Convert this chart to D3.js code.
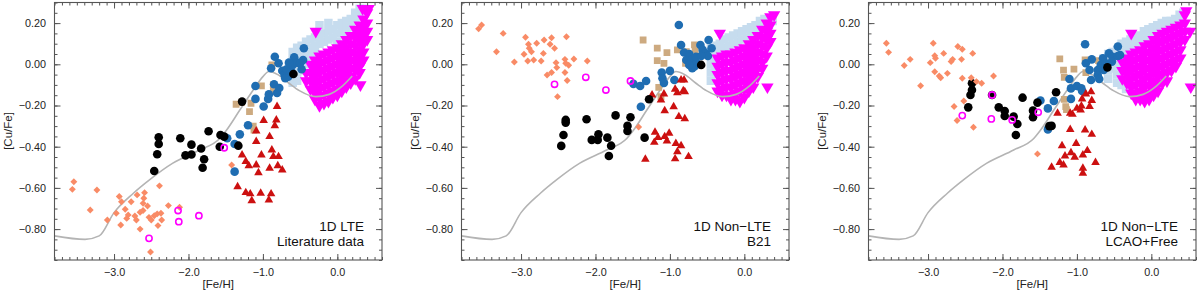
<!DOCTYPE html>
<html lang="en">
<head>
<meta charset="UTF-8">
<title>[Cu/Fe] vs [Fe/H]</title>
<script src="https://cdnjs.cloudflare.com/ajax/libs/d3/7.8.5/d3.min.js"></script>
<style>
  body { margin: 0; background: #fff; }
  svg { font-family: "Liberation Sans", Arial, Helvetica, sans-serif; display: block; }
</style>
</head>
<body>
<svg width="1200" height="294"></svg>
<script>
// chemical evolution model, same in all three panels
const modelFeH = [-3.80, -3.39, -3.20, -3.00, -2.74, -2.52, -2.21, -1.85, -1.58, -1.49, -1.31, -1.13, -1.00, -0.92, -0.80, -0.65, -0.51, -0.29, -0.11, 0.07, 0.20];
const modelCuFe = [-0.833, -0.85, -0.833, -0.72, -0.626, -0.56, -0.48, -0.416, -0.36, -0.32, -0.222, -0.125, -0.06, -0.035, -0.05, -0.092, -0.128, -0.157, -0.146, -0.105, -0.057];

const xTicks = [-3, -2, -1, 0];
const xTickLabels = ["\u22123.0", "\u22122.0", "\u22121.0", "0.0"];
const yTicks = [0.2, 0, -0.2, -0.4, -0.6, -0.8];
const yTickLabels = ["0.20", "0.00", "\u22120.20", "\u22120.40", "\u22120.60", "\u22120.80"];

const panelTitles = [["1D LTE", "Literature data"], ["1D Non\u2212LTE", "B21"], ["1D Non\u2212LTE", "LCAO+Free"]];

// ---- panel 1: 1D LTE, literature ----
const lteHalo = [[-3.54,-0.57],[-3.56,-0.607],[-3.23,-0.61],[-3.32,-0.707],[-3.09,-0.756],[-2.93,-0.642],[-2.90,-0.667],[-2.97,-0.723],[-2.91,-0.78],[-2.85,-0.704],[-2.83,-0.748],[-2.81,-0.731],[-2.77,-0.667],[-2.72,-0.736],[-2.70,-0.756],[-2.69,-0.634],[-2.65,-0.718],[-2.65,-0.80],[-2.61,-0.675],[-2.60,-0.65],[-2.59,-0.623],[-2.61,-0.71],[-2.55,-0.688],[-2.53,-0.743],[-2.51,-0.911],[-2.50,-0.756],[-2.46,-0.735],[-2.42,-0.726],[-2.41,-0.783],[-2.39,-0.59],[-2.37,-0.723],[-2.36,-0.756],[-2.27,-0.686],[-2.12,-0.694],[-1.42,-0.489]];
const lteRing = [[-2.14,-0.71],[-2.13,-0.764],[-1.86,-0.735],[-2.53,-0.845],[-1.52,-0.405]];
const lteBlack = [[-2.40,-0.354],[-2.40,-0.387],[-2.42,-0.437],[-2.46,-0.518],[-2.11,-0.359],[-2.04,-0.442],[-1.96,-0.39],[-1.96,-0.438],[-1.83,-0.409],[-1.79,-0.461],[-1.81,-0.502],[-1.73,-0.325],[-1.57,-0.343],[-1.52,-0.351],[-1.58,-0.40],[-1.33,-0.395],[-1.28,-0.181],[-0.59,-0.047]];
const lteBlue = [[-1.48,-0.359],[-1.31,-0.34],[-1.38,-0.387],[-1.38,-0.521],[-1.20,-0.296],[-1.10,-0.168],[-1.10,-0.105],[-0.99,-0.205],[-0.93,-0.168],[-0.92,-0.146],[-0.81,-0.139],[-0.85,-0.097],[-0.78,-0.115],[-0.89,-0.019],[-0.84,0.037],[-0.79,0.005],[-0.74,-0.031],[-0.71,-0.052],[-0.68,-0.024],[-0.66,-0.06],[-0.62,-0.034],[-0.60,-0.003],[-0.58,0.034],[-0.54,0.008],[-0.48,-0.024],[-0.46,0.021],[-0.45,0.078],[-0.50,0.005],[-0.65,0.008],[-0.70,-0.068]];
const lteTan = [[-1.36,-0.194],[-1.29,-0.186],[-1.18,-0.23],[-1.16,-0.189],[-1.02,-0.105],[-1.13,-0.30],[-1.12,-0.32],[-0.88,-0.003],[-0.86,-0.10],[-0.86,-0.125]];
const lteRed = [[-0.81,-0.205],[-0.99,-0.273],[-0.82,-0.27],[-0.84,-0.298],[-1.09,-0.324],[-0.91,-0.351],[-1.09,-0.375],[-0.88,-0.416],[-1.28,-0.44],[-1.02,-0.44],[-0.86,-0.448],[-0.79,-0.448],[-1.23,-0.472],[-1.09,-0.489],[-1.19,-0.492],[-1.06,-0.526],[-0.91,-0.505],[-0.74,-0.513],[-0.80,-0.492],[-1.34,-0.594],[-1.23,-0.623],[-1.17,-0.629],[-1.15,-0.662],[-1.03,-0.626],[-0.89,-0.629],[-0.92,-0.659]];
const lteThin = [[-0.65,0.0],[-0.65,-0.04],[-0.60,0.06],[-0.60,0.02],[-0.60,-0.02],[-0.60,-0.06],[-0.60,-0.09],[-0.54,0.08],[-0.54,0.04],[-0.54,0.0],[-0.54,-0.04],[-0.54,-0.08],[-0.48,0.09],[-0.48,0.05],[-0.48,0.01],[-0.48,-0.03],[-0.42,0.11],[-0.42,0.07],[-0.42,0.03],[-0.42,0.0],[-0.36,0.12],[-0.36,0.08],[-0.36,0.04],[-0.30,0.13],[-0.30,0.09],[-0.30,0.05],[-0.24,0.19],[-0.24,0.14],[-0.24,0.10],[-0.18,0.15],[-0.18,0.11],[-0.12,0.20],[-0.12,0.16],[-0.12,0.12],[-0.06,0.17],[-0.06,0.13],[0.00,0.19],[0.00,0.15],[0.00,0.11],[0.06,0.20],[0.06,0.16],[0.12,0.21],[0.12,0.17],[0.12,0.13],[0.18,0.22],[0.18,0.18],[0.24,0.25],[0.24,0.21],[0.30,0.27],[0.30,0.23],[0.36,0.27]];
const lteDisk = [[-0.42,-0.04],[-0.42,-0.08],[-0.36,0.0],[-0.36,-0.04],[-0.36,-0.08],[-0.36,-0.12],[-0.30,0.02],[-0.30,-0.02],[-0.30,-0.06],[-0.30,-0.10],[-0.30,-0.14],[-0.30,-0.17],[-0.24,0.04],[-0.24,0.0],[-0.24,-0.04],[-0.24,-0.08],[-0.24,-0.12],[-0.24,-0.16],[-0.24,-0.20],[-0.18,0.05],[-0.18,0.01],[-0.18,-0.03],[-0.18,-0.07],[-0.18,-0.11],[-0.18,-0.15],[-0.18,-0.19],[-0.12,0.06],[-0.12,0.02],[-0.12,-0.02],[-0.12,-0.06],[-0.12,-0.10],[-0.12,-0.14],[-0.12,-0.18],[-0.06,0.07],[-0.06,0.03],[-0.06,-0.01],[-0.06,-0.05],[-0.06,-0.09],[-0.06,-0.13],[-0.06,-0.16],[0.00,0.08],[0.00,0.04],[0.00,0.00],[0.00,-0.04],[0.00,-0.08],[0.00,-0.12],[0.00,-0.15],[0.06,0.10],[0.06,0.06],[0.06,0.02],[0.06,-0.02],[0.06,-0.06],[0.06,-0.10],[0.06,-0.13],[0.12,0.12],[0.12,0.08],[0.12,0.04],[0.12,0.00],[0.12,-0.04],[0.12,-0.08],[0.12,-0.11],[0.18,0.14],[0.18,0.10],[0.18,0.06],[0.18,0.02],[0.18,-0.02],[0.18,-0.06],[0.18,-0.09],[0.24,0.17],[0.24,0.13],[0.24,0.09],[0.24,0.05],[0.24,0.01],[0.24,-0.03],[0.24,-0.07],[0.30,0.19],[0.30,0.15],[0.30,0.11],[0.30,0.07],[0.30,0.03],[0.30,-0.01],[0.30,-0.04],[0.35,0.22],[0.35,0.18],[0.35,0.14],[0.35,0.10],[0.35,0.06],[0.35,0.02],[0.40,0.25],[0.40,0.20],[0.40,0.16],[0.40,0.12],[-0.29,0.16],[0.34,0.27],[0.42,0.27],[0.31,-0.10]];

// ---- panel 2: 1D NLTE, B21 ----
const b21Halo = [[-3.53,0.191],[-3.57,0.172],[-3.24,0.15],[-3.33,0.061],[-3.09,0.011],[-2.94,0.131],[-2.96,0.049],[-2.90,0.097],[-2.89,0.078],[-2.91,0.016],[-2.86,0.061],[-2.83,0.021],[-2.79,0.102],[-2.73,0.016],[-2.70,0.053],[-2.69,0.118],[-2.65,-0.052],[-2.61,0.097],[-2.59,0.129],[-2.59,-0.04],[-2.55,0.078],[-2.53,0.008],[-2.52,-0.016],[-2.51,-0.157],[-2.41,0.024],[-2.40,0.005],[-2.41,-0.04],[-2.39,0.134],[-2.36,-0.005],[-2.38,-0.079],[-2.29,0.026],[-2.11,0.016],[-1.42,-0.304]];
const b21Ring = [[-2.55,-0.097],[-2.13,-0.063],[-1.86,-0.125],[-1.53,-0.081]];
const b21Black = [[-2.46,-0.396],[-2.43,-0.343],[-2.40,-0.27],[-2.40,-0.283],[-2.12,-0.267],[-2.05,-0.367],[-1.96,-0.34],[-1.97,-0.367],[-1.84,-0.356],[-1.79,-0.395],[-1.82,-0.445],[-1.73,-0.248],[-1.57,-0.299],[-1.57,-0.324],[-1.53,-0.257],[-1.34,-0.356],[-1.28,-0.17],[-0.58,-0.003]];
const b21Blue = [[-1.49,-0.095],[-1.40,-0.105],[-1.32,-0.081],[-1.39,-0.206],[-1.11,-0.04],[-1.10,-0.068],[-1.08,-0.09],[-1.00,-0.032],[-0.94,-0.076],[-0.88,0.191],[-0.85,0.094],[-0.81,0.057],[-0.78,0.021],[-0.74,0.05],[-0.72,-0.003],[-0.67,-0.011],[-0.70,0.024],[-0.64,0.005],[-0.65,0.037],[-0.59,0.094],[-0.56,0.07],[-0.52,0.053],[-0.49,0.04],[-0.44,0.078],[-0.48,0.118],[-0.58,0.04],[-0.70,-0.019],[-0.74,-0.003]];
const b21Tan = [[-1.36,0.118],[-1.17,0.078],[-1.04,0.057],[-1.17,0.018],[-1.08,0.005],[-1.15,-0.112],[-1.12,-0.157],[-0.90,0.07],[-0.78,0.061],[-0.67,0.094],[-0.66,0.07],[-0.79,0.005]];
const b21Red = [[-1.24,-0.149],[-1.08,-0.144],[-1.12,-0.173],[-0.93,-0.121],[-0.90,-0.138],[-0.85,-0.076],[-0.81,-0.076],[-0.82,-0.128],[-0.80,-0.133],[-1.07,-0.225],[-0.95,-0.206],[-0.88,-0.254],[-0.80,-0.264],[-1.20,-0.33],[-1.16,-0.356],[-1.21,-0.379],[-1.07,-0.351],[-1.01,-0.335],[-1.04,-0.372],[-0.92,-0.384],[-0.85,-0.395],[-0.90,-0.424],[-0.75,-0.448],[-0.93,-0.459],[-1.33,-0.461]];
const b21Thin = [[-0.45,0.08],[-0.45,0.04],[-0.45,0.0],[-0.45,-0.04],[-0.45,-0.08],[-0.39,0.09],[-0.39,0.05],[-0.39,0.01],[-0.39,-0.03],[-0.33,0.10],[-0.33,0.07],[-0.27,0.12],[-0.27,0.08],[-0.21,0.13],[-0.21,0.09],[-0.15,0.14],[-0.15,0.10],[-0.09,0.15],[-0.09,0.11],[-0.03,0.16],[-0.03,0.12],[0.03,0.17],[0.03,0.13],[0.09,0.18],[0.09,0.14],[0.15,0.19],[0.15,0.15],[0.21,0.21],[0.21,0.18],[0.27,0.22],[0.33,0.22],[0.33,0.19],[0.38,0.21]];
const b21Disk = [[-0.36,0.03],[-0.36,-0.01],[-0.36,-0.05],[-0.36,-0.09],[-0.36,-0.13],[-0.30,0.04],[-0.30,0.0],[-0.30,-0.04],[-0.30,-0.08],[-0.30,-0.12],[-0.30,-0.15],[-0.24,0.05],[-0.24,0.01],[-0.24,-0.03],[-0.24,-0.07],[-0.24,-0.11],[-0.24,-0.15],[-0.18,0.05],[-0.18,0.01],[-0.18,-0.03],[-0.18,-0.07],[-0.18,-0.11],[-0.18,-0.15],[-0.18,-0.17],[-0.12,0.06],[-0.12,0.02],[-0.12,-0.02],[-0.12,-0.06],[-0.12,-0.10],[-0.12,-0.14],[-0.12,-0.17],[-0.06,0.07],[-0.06,0.03],[-0.06,-0.01],[-0.06,-0.05],[-0.06,-0.09],[-0.06,-0.13],[-0.06,-0.18],[0.0,0.08],[0.0,0.04],[0.0,0.0],[0.0,-0.04],[0.0,-0.08],[0.0,-0.12],[0.0,-0.16],[0.06,0.10],[0.06,0.06],[0.06,0.02],[0.06,-0.02],[0.06,-0.06],[0.06,-0.10],[0.06,-0.13],[0.12,0.12],[0.12,0.08],[0.12,0.04],[0.12,0.0],[0.12,-0.04],[0.12,-0.08],[0.12,-0.11],[0.18,0.14],[0.18,0.10],[0.18,0.06],[0.18,0.02],[0.18,-0.02],[0.18,-0.06],[0.24,0.17],[0.24,0.13],[0.24,0.09],[0.24,0.05],[0.24,0.01],[0.24,-0.02],[0.30,0.20],[0.30,0.16],[0.30,0.12],[0.30,0.08],[0.30,0.04],[0.35,0.23],[0.35,0.19],[0.35,0.15],[0.35,0.11],[-0.33,0.15],[0.31,-0.11],[0.40,0.24]];

// ---- panel 3: 1D NLTE, LCAO+Free ----
const lcaoHalo = [[-3.56,0.102],[-3.53,0.058],[-3.32,-0.006],[-3.24,0.024],[-3.10,-0.104],[-2.93,0.102],[-2.97,0.008],[-2.91,0.042],[-2.90,0.029],[-2.91,-0.036],[-2.85,-0.057],[-2.83,-0.065],[-2.79,0.053],[-2.74,-0.044],[-2.69,0.013],[-2.67,0.024],[-2.65,-0.205],[-2.61,-0.273],[-2.60,0.086],[-2.54,0.073],[-2.55,0.024],[-2.54,-0.068],[-2.52,-0.178],[-2.42,-0.065],[-2.40,0.053],[-2.39,-0.306],[-2.35,-0.084],[-2.28,-0.092],[-2.12,-0.057],[-1.53,-0.435]];
const lcaoRing = [[-2.54,-0.249],[-2.14,-0.149],[-2.15,-0.265],[-1.87,-0.27],[-1.52,-0.233]];
const lcaoBlack = [[-2.41,-0.092],[-2.41,-0.125],[-2.43,-0.149],[-2.46,-0.209],[-2.14,-0.149],[-2.05,-0.209],[-1.97,-0.227],[-1.97,-0.251],[-1.85,-0.254],[-1.80,-0.29],[-1.82,-0.343],[-1.73,-0.162],[-1.59,-0.225],[-1.59,-0.257],[-1.53,-0.186],[-1.28,-0.136],[-1.34,-0.299],[-1.37,-0.30],[-0.59,-0.015]];
const lcaoBlue = [[-1.49,-0.176],[-1.39,-0.214],[-1.31,-0.178],[-1.39,-0.316],[-1.10,-0.071],[-1.08,-0.117],[-1.08,-0.168],[-1.00,-0.105],[-0.94,-0.117],[-0.93,-0.13],[-0.89,0.097],[-0.88,0.005],[-0.83,-0.028],[-0.81,-0.076],[-0.80,0.024],[-0.72,-0.028],[-0.72,-0.052],[-0.70,-0.071],[-0.68,-0.003],[-0.65,0.029],[-0.61,0.005],[-0.57,0.053],[-0.52,0.037],[-0.45,0.086],[-0.45,0.04],[-0.42,0.045],[-0.53,0.013],[-0.64,-0.028]];
const lcaoTan = [[-1.23,0.026],[-1.18,-0.028],[-1.17,-0.063],[-1.04,-0.023],[-1.17,-0.17],[-1.15,-0.205],[-1.14,-0.22],[-0.89,0.021],[-0.88,-0.04],[-0.71,0.018],[-0.67,0.013]];
const lcaoRed = [[-0.88,-0.144],[-0.81,-0.133],[-0.93,-0.168],[-0.80,-0.176],[-0.83,-0.205],[-0.94,-0.202],[-0.95,-0.222],[-1.09,-0.238],[-1.06,-0.243],[-1.00,-0.214],[-1.26,-0.238],[-1.09,-0.316],[-0.89,-0.319],[-0.80,-0.34],[-1.01,-0.384],[-1.20,-0.395],[-1.08,-0.429],[-1.16,-0.445],[-1.03,-0.451],[-0.92,-0.44],[-0.86,-0.419],[-0.75,-0.477],[-1.23,-0.477],[-1.18,-0.489],[-1.34,-0.50],[-0.92,-0.505],[-0.92,-0.529]];
const lcaoThin = [[-0.64,0.03],[-0.64,-0.01],[-0.58,0.05],[-0.58,0.01],[-0.58,-0.03],[-0.58,-0.07],[-0.52,0.06],[-0.52,0.02],[-0.52,-0.02],[-0.46,0.07],[-0.46,0.03],[-0.46,-0.01],[-0.46,-0.05],[-0.46,-0.09],[-0.40,0.10],[-0.40,0.06],[-0.40,0.03],[-0.40,-0.10],[-0.34,0.11],[-0.34,0.07],[-0.34,0.04],[-0.34,-0.12],[-0.28,0.12],[-0.28,0.08],[-0.22,0.13],[-0.22,0.09],[-0.16,0.14],[-0.16,0.11],[-0.10,0.16],[-0.10,0.12],[-0.04,0.17],[-0.04,0.13],[0.02,0.18],[0.02,0.15],[0.08,0.19],[0.08,0.17],[0.14,0.20],[0.14,0.17],[0.20,0.21],[0.20,0.18],[0.26,0.21],[0.26,0.19],[0.32,0.22],[0.32,0.19],[0.38,0.24],[0.38,0.21],[0.43,0.25]];
const lcaoDisk = [[-0.39,0.01],[-0.39,-0.03],[-0.39,-0.07],[-0.33,0.03],[-0.33,-0.01],[-0.33,-0.05],[-0.33,-0.09],[-0.27,0.05],[-0.27,0.01],[-0.27,-0.03],[-0.27,-0.07],[-0.27,-0.11],[-0.27,-0.14],[-0.21,0.06],[-0.21,0.02],[-0.21,-0.02],[-0.21,-0.06],[-0.21,-0.10],[-0.21,-0.14],[-0.21,-0.17],[-0.15,0.07],[-0.15,0.03],[-0.15,-0.01],[-0.15,-0.05],[-0.15,-0.09],[-0.15,-0.13],[-0.15,-0.17],[-0.09,0.09],[-0.09,0.05],[-0.09,0.01],[-0.09,-0.03],[-0.09,-0.07],[-0.09,-0.11],[-0.09,-0.15],[-0.09,-0.18],[-0.03,0.10],[-0.03,0.06],[-0.03,0.02],[-0.03,-0.02],[-0.03,-0.06],[-0.03,-0.10],[-0.03,-0.14],[-0.03,-0.17],[0.03,0.12],[0.03,0.08],[0.03,0.04],[0.03,0.0],[0.03,-0.04],[0.03,-0.08],[0.03,-0.12],[0.03,-0.15],[0.09,0.14],[0.09,0.10],[0.09,0.06],[0.09,0.02],[0.09,-0.02],[0.09,-0.06],[0.09,-0.10],[0.09,-0.13],[0.15,0.15],[0.15,0.11],[0.15,0.07],[0.15,0.03],[0.15,-0.01],[0.15,-0.05],[0.15,-0.09],[0.21,0.16],[0.21,0.12],[0.21,0.08],[0.21,0.04],[0.21,0.0],[0.21,-0.04],[0.21,-0.08],[0.27,0.17],[0.27,0.13],[0.27,0.09],[0.27,0.05],[0.27,0.01],[0.27,-0.03],[0.33,0.18],[0.33,0.14],[0.33,0.10],[0.33,0.06],[0.33,0.02],[0.33,-0.01],[0.39,0.19],[0.39,0.15],[0.39,0.11],[0.39,0.07],[0.39,0.03],[0.45,0.24],[0.45,0.20],[0.45,0.16],[0.45,0.12],[0.47,0.26],[0.53,-0.11],[-0.27,0.15],[0.52,0.16]];

const panels = [
  { halo: lteHalo, ring: lteRing, black: lteBlack, blue: lteBlue, tan: lteTan, red: lteRed, thin: lteThin, disk: lteDisk },
  { halo: b21Halo, ring: b21Ring, black: b21Black, blue: b21Blue, tan: b21Tan, red: b21Red, thin: b21Thin, disk: b21Disk },
  { halo: lcaoHalo, ring: lcaoRing, black: lcaoBlack, blue: lcaoBlue, tan: lcaoTan, red: lcaoRed, thin: lcaoThin, disk: lcaoDisk }
];

const svg = d3.select("svg");
const panelLeft = [54.5, 461.5, 868.5];
const pw = 327.5, plotTop = 2.5, plotBottom = 260;
const frameColor = "#555";

const minorX = d3.range(-38, 7).map(i => i / 10);
const minorY = d3.range(-19, 7).map(i => i / 20);
const model = modelFeH.map((v, i) => [v, modelCuFe[i]]);

panels.forEach((p, k) => {
  const left = panelLeft[k], right = left + pw;
  const x = d3.scaleLinear().domain([-3.8, 0.6]).range([left, right]);
  const y = d3.scaleLinear().domain([-0.95, 0.30]).range([plotBottom, plotTop]);
  const g = svg.append("g");

  const clip = "clip" + k;
  g.append("clipPath").attr("id", clip)
    .append("rect").attr("x", left).attr("y", plotTop).attr("width", pw).attr("height", plotBottom - plotTop);
  const plot = g.append("g").attr("clip-path", `url(#${clip})`);

  const sym = (type, size) => d3.symbol().type(type).size(size)();
  const markers = (data, path, fill, rot) => plot.append("g").selectAll("path").data(data).join("path")
    .attr("d", path)
    .attr("transform", d => `translate(${x(d[0])},${y(d[1])})` + (rot ? ` rotate(${rot})` : ""))
    .attr("fill", fill);
  const dots = (data, fill) => plot.append("g").selectAll("circle").data(data).join("circle")
    .attr("cx", d => x(d[0])).attr("cy", d => y(d[1])).attr("r", 4.3).attr("fill", fill);

  markers(p.thin, sym(d3.symbolSquare, 72), "#C6DCEE");
  markers(p.disk, sym(d3.symbolTriangle, 66), "#FF00FF", 180);

  plot.append("path").datum(model)
    .attr("d", d3.line().x(d => x(d[0])).y(d => y(d[1])).curve(d3.curveMonotoneX))
    .attr("fill", "none").attr("stroke", "#B4B4B4").attr("stroke-width", 1.6);

  markers(p.tan, sym(d3.symbolSquare, 46), "#CDAA80");
  dots(p.blue, "#1F6DB2");
  markers(p.red, sym(d3.symbolTriangle, 32), "#CC1010");
  dots(p.black, "#000");
  markers(p.halo, sym(d3.symbolSquare, 24), "#F98B66", 45);
  plot.append("g").selectAll("circle").data(p.ring).join("circle")
    .attr("cx", d => x(d[0])).attr("cy", d => y(d[1])).attr("r", 3.1)
    .attr("fill", "none").attr("stroke", "#FF00FF").attr("stroke-width", 1.6);

  // axes, ticks pointing inward on all four sides
  const styleAxis = a => {
    a.select(".domain").remove();
    a.selectAll("line").attr("stroke", frameColor);
    a.selectAll("text").attr("fill", "#222").attr("font-size", 10.8)
      .attr("font-family", "'Liberation Sans', Arial, sans-serif");
  };
  const gb = g.append("g").attr("transform", `translate(0,${plotBottom})`);
  gb.append("g").call(d3.axisBottom(x).tickValues(minorX).tickSize(-3).tickFormat("")).call(styleAxis);
  gb.append("g").call(d3.axisBottom(x).tickValues(xTicks).tickSize(-6).tickPadding(8.5)
    .tickFormat((d, i) => xTickLabels[i])).call(styleAxis);
  const gt = g.append("g").attr("transform", `translate(0,${plotTop})`);
  gt.append("g").call(d3.axisTop(x).tickValues(minorX).tickSize(-3).tickFormat("")).call(styleAxis);
  gt.append("g").call(d3.axisTop(x).tickValues(xTicks).tickSize(-6).tickFormat("")).call(styleAxis);
  const gl = g.append("g").attr("transform", `translate(${left},0)`);
  gl.append("g").call(d3.axisLeft(y).tickValues(minorY).tickSize(-3).tickFormat("")).call(styleAxis);
  gl.append("g").call(d3.axisLeft(y).tickValues(yTicks).tickSize(-6).tickPadding(8.5)
    .tickFormat((d, i) => yTickLabels[i])).call(styleAxis);
  const gr = g.append("g").attr("transform", `translate(${right},0)`);
  gr.append("g").call(d3.axisRight(y).tickValues(minorY).tickSize(-3).tickFormat("")).call(styleAxis);
  gr.append("g").call(d3.axisRight(y).tickValues(yTicks).tickSize(-6).tickFormat("")).call(styleAxis);

  g.append("rect").attr("x", left).attr("y", plotTop).attr("width", pw).attr("height", plotBottom - plotTop)
    .attr("fill", "none").attr("stroke", frameColor).attr("stroke-width", 1.1);

  g.append("text").attr("x", (left + right) / 2).attr("y", 288)
    .attr("text-anchor", "middle").attr("font-size", 11.5).attr("fill", "#222").text("[Fe/H]");
  g.append("text").attr("transform", `translate(${left - 43},131) rotate(-90)`)
    .attr("text-anchor", "middle").attr("font-size", 11.5).attr("fill", "#222").text("[Cu/Fe]");

  panelTitles[k].forEach((t, i) => {
    g.append("text").attr("x", right - 18).attr("y", 231 + i * 15)
      .attr("text-anchor", "end").attr("font-size", 13.5).attr("fill", "#111").text(t);
  });
});
</script>
</body>
</html>
